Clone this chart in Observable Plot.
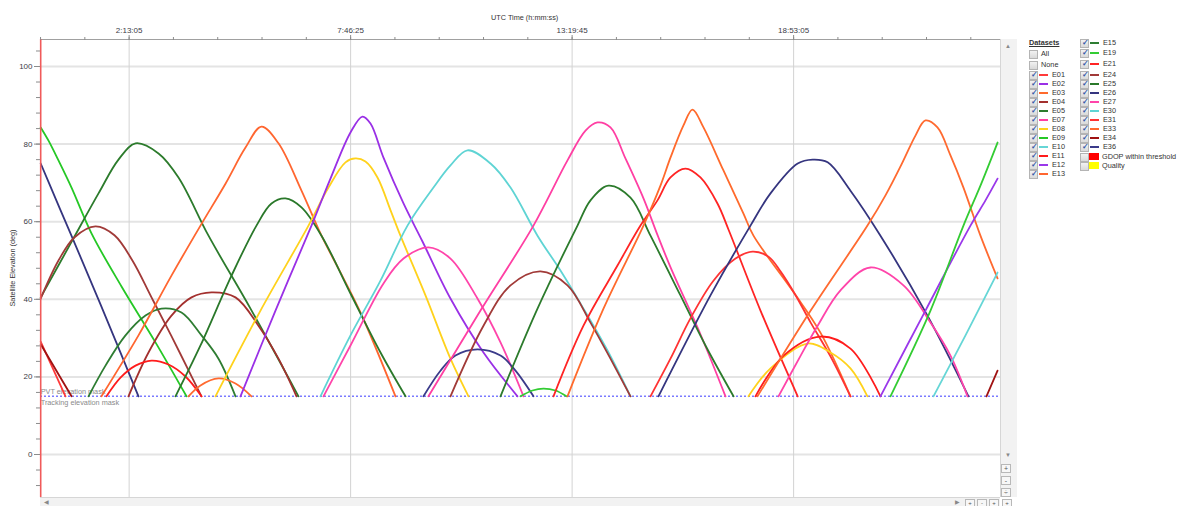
<!DOCTYPE html>
<html>
<head>
<meta charset="utf-8">
<script src="https://cdn.jsdelivr.net/npm/d3@7"></script>
<script src="https://cdn.jsdelivr.net/npm/@observablehq/plot@0.6"></script>
<style>
  body { margin: 0; background: #fff; }
  #root { position: relative; width: 1179px; height: 506px; overflow: hidden;
          font-family: "Liberation Sans", Arial, sans-serif; color: #333; }
  #chart { position: absolute; left: 0; top: 0; }
  .t { position: absolute; white-space: nowrap; font-size: 7.3px; line-height: 10px; }
  .cb { position: absolute; width: 7px; height: 7px; border: 1px solid #b4b4b4;
        background: linear-gradient(#f2f2f2, #d9d9d9); box-sizing: content-box; }
  .cb.on::after { content: "✓"; position: absolute; left: 0.5px; top: -2px; font-size: 8px;
        color: #3558a8; font-weight: bold; }
  .sw { position: absolute; width: 9px; height: 2px; }
  .bar { position: absolute; background: #f2f2f2; }
  .btn { position: absolute; width: 8px; height: 7px; border: 1px solid #b8b8b8; background: #f7f7f7;
         font-size: 7px; line-height: 7px; text-align: center; color: #555; }
  .btn.low { height: 6px; line-height: 6px; font-size: 6px; border-bottom: none; }
  .arr { position: absolute; font-size: 6px; color: #888; line-height: 6px; }
</style>
</head>
<body>
<div id="root">
  <div id="chart"></div>
</div>
<script>
// ---- Axis ticks ----
const timeTickLabels = ["2:13:05", "7:46:25", "13:19:45", "18:53:05"];
const minorTimeStepSeconds = 4000;
const elevationTicks = [0, 20, 40, 60, 80, 100];
const maskElevation = 15;

// ---- Satellites and colours ----
const satIds = ["E01", "E02", "E03", "E04", "E05", "E07", "E08", "E09", "E10", "E11", "E12", "E13",
                "E15", "E19", "E21", "E24", "E25", "E26", "E27", "E30", "E31", "E33", "E34", "E36"];
const satColors = ["#ff3a3a", "#9a30e6", "#ff6a2c", "#a3302e", "#2c7b2c", "#ff3fa3", "#ffd21c", "#25c825",
                   "#66d6d6", "#ff1c1c", "#9a38ea", "#ff6630", "#2e7d32", "#33cc33", "#ff2424", "#a13a38",
                   "#2a782a", "#35357f", "#ff44aa", "#5fd4d4", "#ff3333", "#ff6a30", "#a01212", "#3b3b8a"];

// ---- Passes: [UTC hours, elevation deg] ----
const E01_a = [[0, 29.1], [0.622, 15]];
const E34_a = [[0, 28.4], [0.773, 15]];
const E09_a = [[0, 84.3], [0.196, 80.9], [0.446, 75.8], [0.773, 68.8], [1.274, 57.0], [2.027, 43.3], [2.879, 28.9], [3.657, 15]];
const E26_a = [[0, 75.0], [0.371, 66.0], [0.747, 57.0], [1.500, 38.7], [2.453, 15]];
const E05_a = [[0, 40.5], [0.773, 54.8], [1.450, 67.3], [1.951, 76.0], [2.378, 80.2], [2.955, 77.6], [3.456, 71.4], [4.209, 56.4], [5.262, 37.6], [6.466, 15]];
const E24_a = [[0, 40.2], [0.446, 50.0], [0.850, 56.0], [1.374, 58.8], [1.850, 56.5], [2.300, 50.0], [2.779, 40.5], [3.280, 30.5], [3.833, 19.1], [4.033, 15]];
const E04_a = [[2.202, 15], [2.704, 26.3], [3.280, 35.8], [3.782, 40.5], [4.284, 41.8], [4.886, 40.5], [5.462, 33.2], [5.964, 24.7], [6.416, 15]];
const E15_a = [[1.199, 15], [1.625, 22.9], [2.127, 30.7], [2.629, 35.8], [3.030, 37.6], [3.531, 36.6], [4.033, 30.7], [4.460, 24.7], [4.886, 15]];
const E11_a = [[1.650, 15], [2.001, 19.8], [2.378, 22.9], [2.779, 24.2], [3.205, 23.2], [3.632, 20.1], [4.033, 15]];
const E33_a = [[3.707, 15], [4.008, 17.8], [4.460, 19.6], [4.886, 18.3], [5.287, 15]];
const E13_a = [[1.525, 15], [2.453, 30.7], [3.280, 46.1], [4.008, 59.0], [4.635, 69.8], [5.137, 79.1], [5.538, 84.5], [5.964, 80.2], [6.541, 68.0], [7.043, 56.4], [7.469, 47.9], [8.021, 36.6], [8.899, 15]];
const E25_a = [[3.381, 15], [4.008, 28.1], [4.786, 46.1], [5.412, 59.0], [5.789, 64.7], [6.140, 66.0], [6.541, 63.7], [7.043, 56.4], [7.770, 41.5], [8.523, 26.3], [9.150, 15]];
const E08_a = [[4.384, 15], [5.513, 37.1], [6.717, 59.0], [7.218, 68.8], [7.645, 75.3], [7.895, 76.3], [8.146, 75.5], [8.447, 71.4], [8.773, 63.0], [9.024, 56.4], [9.651, 41.0], [10.278, 24.7], [10.730, 15]];
const E02_a = [[5.011, 15], [5.889, 37.1], [6.792, 59.0], [7.268, 71.1], [7.770, 83.0], [8.071, 87.1], [8.272, 85.3], [8.598, 76.5], [9.100, 64.7], [9.576, 54.9], [10.278, 40.2], [11.106, 26.3], [11.959, 15]];
const E30_a = [[7.018, 15], [7.770, 30.7], [8.523, 44.8], [9.200, 59.0], [9.852, 68.8], [10.278, 74.5], [10.704, 78.4], [11.282, 75.0], [11.784, 68.8], [12.461, 56.4], [13.037, 47.4], [13.614, 37.6], [14.216, 26.8], [14.793, 15]];
const E27_a = [[7.093, 15], [7.770, 28.1], [8.598, 44.1], [9.100, 50.5], [9.726, 53.4], [10.278, 50.5], [10.955, 40.2], [11.533, 28.9], [12.110, 15]];
const E36_a = [[9.601, 15], [10.027, 21.6], [10.403, 25.5], [10.955, 27.1], [11.533, 25.5], [11.909, 21.6], [12.360, 15]];
const E24_b = [[10.278, 15], [11.106, 33.2], [11.784, 43.6], [12.536, 47.2], [13.213, 43.6], [13.790, 34.0], [14.291, 24.7], [14.793, 15]];
const E07_a = [[9.726, 15], [11.031, 37.1], [12.360, 59.0], [13.213, 75.8], [13.665, 83.5], [13.965, 85.6], [14.291, 84.3], [14.667, 76.3], [15.119, 66.0], [15.470, 56.6], [15.796, 48.3], [16.548, 31.0], [17.176, 15]];
const E05_b = [[11.533, 15], [12.461, 37.6], [13.464, 59.0], [13.790, 65.5], [14.241, 69.3], [14.793, 66.2], [15.295, 56.4], [16.047, 41.0], [16.674, 28.1], [17.377, 15]];
const E19_a = [[12.034, 15], [12.335, 16.5], [12.611, 17.0], [12.912, 16.5], [13.188, 15]];
const E21_a = [[12.862, 15], [13.614, 33.2], [14.467, 48.7], [15.044, 59.0], [15.470, 65.5], [15.796, 71.4], [16.172, 73.7], [16.548, 71.4], [16.975, 64.7], [17.251, 58.0], [18.054, 37.1], [18.987, 15]];
const E03_a = [[13.213, 15], [14.116, 37.6], [15.119, 59.0], [15.545, 69.3], [15.796, 76.5], [16.122, 84.8], [16.348, 88.9], [16.624, 84.3], [17.125, 73.2], [17.627, 62.1], [17.878, 56.4], [18.887, 41.8], [19.558, 31.4], [20.311, 15]];
const E31_a = [[15.295, 15], [15.796, 24.7], [16.297, 35.1], [16.874, 44.8], [17.427, 50.5], [17.853, 52.3], [18.255, 51.0], [18.555, 47.2], [18.937, 41.0], [19.313, 34.0], [19.809, 25.3], [20.311, 15]];
const E26_b = [[15.495, 15], [15.796, 21.1], [16.799, 41.0], [17.803, 59.0], [18.305, 67.3], [18.987, 75.0], [19.363, 76.0], [19.739, 75.3], [20.311, 68.0], [21.063, 56.4], [22.242, 35.8], [23.271, 15]];
const E08_b = [[17.753, 15], [18.305, 22.2], [19.238, 28.6], [19.809, 26.3], [20.311, 22.2], [20.737, 15]];
const E11_b = [[17.928, 15], [18.636, 25.5], [19.558, 30.4], [20.311, 27.3], [21.063, 15]];
const E33_b = [[17.979, 15], [19.313, 37.1], [20.737, 59.0], [21.189, 66.8], [21.640, 75.8], [21.941, 82.2], [22.192, 86.1], [22.493, 84.3], [22.819, 77.1], [23.145, 68.8], [23.571, 56.4], [24.0, 45.4]];
const E27_b = [[18.505, 15], [19.062, 25.5], [19.488, 33.2], [20.060, 42.3], [20.813, 48.2], [21.640, 43.6], [22.318, 34.0], [22.819, 25.5], [23.246, 15]];
const E12_a = [[21.063, 15], [22.192, 37.1], [23.321, 59.0], [23.697, 65.5], [24.0, 71.1]];
const E19_b = [[21.314, 15], [22.318, 37.1], [23.145, 59.0], [23.571, 69.3], [24.0, 80.4]];
const E10_a = [[22.393, 15], [23.196, 30.7], [24.0, 46.9]];
const E34_b = [[23.722, 15], [24.0, 21.6]];

const passes = [
  ["E01", E01_a], ["E34", E34_a], ["E09", E09_a], ["E26", E26_a], ["E05", E05_a], ["E24", E24_a],
  ["E04", E04_a], ["E15", E15_a], ["E11", E11_a], ["E33", E33_a], ["E13", E13_a], ["E25", E25_a],
  ["E08", E08_a], ["E02", E02_a], ["E30", E30_a], ["E27", E27_a], ["E36", E36_a], ["E24", E24_b],
  ["E07", E07_a], ["E05", E05_b], ["E19", E19_a], ["E21", E21_a], ["E03", E03_a], ["E31", E31_a],
  ["E26", E26_b], ["E08", E08_b], ["E11", E11_b], ["E33", E33_b], ["E27", E27_b], ["E12", E12_a],
  ["E19", E19_b], ["E10", E10_a], ["E34", E34_b]
];

// ---- Derived tables ----
const colorOf = new Map(satIds.map((id, i) => [id, satColors[i]]));
const toHours = s => { const [h, m, sec] = s.split(":").map(Number); return h + m / 60 + sec / 3600; };
const majorHours = timeTickLabels.map(toHours);
const labelOf = new Map(majorHours.map((h, i) => [h, timeTickLabels[i]]));
const minorHours = d3.range(-2, 20).map(k => majorHours[0] + k * minorTimeStepSeconds / 3600);
const minorElevation = d3.range(-8, 105, 4);
const points = passes.flatMap(([sat, arr], i) =>
  arr.map(([t, el]) => ({sat, pass: i, t, el, color: colorOf.get(sat)})));

const xDomain = [-0.005, 24.074];
const yDomain = [-11.08, 106.96];

const chart = Plot.plot({
  width: 1020,
  height: 506,
  marginLeft: 40,
  marginRight: 20,
  marginTop: 39,
  marginBottom: 9,
  style: {fontFamily: "Liberation Sans, Arial, sans-serif", fontSize: "8px", background: "transparent", overflow: "visible"},
  x: {domain: xDomain, label: null},
  y: {domain: yDomain, label: null},
  color: {type: "identity"},
  marks: [
    Plot.ruleY(elevationTicks, {stroke: "#e4e4e4", strokeWidth: 2}),
    Plot.ruleX(majorHours, {stroke: "#d3d3d3", strokeWidth: 1}),
    Plot.ruleY([maskElevation], {stroke: "#7b7bff", strokeWidth: 1.5, strokeDasharray: "2,2"}),
    Plot.text([{t: 0, el: maskElevation, label: "PVT elevation mask"}],
      {x: "t", y: "el", text: "label", textAnchor: "start", dx: 0, dy: -4.5, fill: "#8a8a8a", fontSize: 7.3}),
    Plot.text([{t: 0, el: maskElevation, label: "Tracking elevation mask"}],
      {x: "t", y: "el", text: "label", textAnchor: "start", dx: 0, dy: 6, fill: "#8a8a8a", fontSize: 7.3}),
    Plot.line(points, {x: "t", y: "el", z: "pass", stroke: "color", strokeWidth: 1.8, curve: "catmull-rom"}),
    Plot.ruleY([yDomain[1]], {stroke: "#a0a0a0", strokeWidth: 1}),
    Plot.ruleX([0], {stroke: "#f05a5a", strokeWidth: 1.6}),
    Plot.axisX({anchor: "top", ticks: majorHours, tickSize: 5, tickPadding: 2,
      tickFormat: d => labelOf.get(d), stroke: "#8c8c8c", fill: "#3c3c48", label: null}),
    Plot.axisX({anchor: "top", ticks: minorHours, tickSize: 3, tickFormat: () => "",
      stroke: "#8c8c8c", label: null}),
    Plot.axisY({ticks: elevationTicks, tickSize: 6, tickPadding: 2, stroke: "#8c8c8c",
      fill: "#3c3c48", label: null}),
    Plot.axisY({ticks: minorElevation, tickSize: 4, tickFormat: () => "", stroke: "#8c8c8c", label: null})
  ]
});
document.getElementById("chart").appendChild(chart);

// ---- Surrounding text, scrollbars and dataset list ----
const root = document.getElementById("root");
function add(cls, css, text) {
  const el = document.createElement("div");
  el.className = cls;
  Object.assign(el.style, css);
  if (text != null) el.textContent = text;
  root.appendChild(el);
  return el;
}

add("t", {left: "491px", top: "13px", width: "67px", textAlign: "center"}, "UTC Time (h:mm:ss)");
add("t", {left: "-26px", top: "263px", width: "78px", textAlign: "center", transform: "rotate(-90deg)"},
    "Satellite Elevation (deg)");

// scrollbars and zoom buttons
add("bar", {left: "1000px", top: "39px", width: "16px", height: "458px", borderLeft: "1px solid #d6d6d6"});
add("bar", {left: "40px", top: "497px", width: "960px", height: "9px", borderTop: "1px solid #d6d6d6"});
add("arr", {left: "1005px", top: "43px"}, "▲");
add("arr", {left: "1005px", top: "452px"}, "▼");
add("arr", {left: "44px", top: "499px"}, "◀");
add("arr", {left: "955px", top: "499px"}, "▶");
add("btn", {left: "1001px", top: "464px"}, "+");
add("btn", {left: "1001px", top: "476px"}, "-");
add("btn", {left: "1001px", top: "488px"}, "÷");
add("btn low", {left: "965px", top: "499px"}, "+");
add("btn low", {left: "977px", top: "499px"}, "-");
add("btn low", {left: "989px", top: "499px"}, "+");
add("btn low", {left: "1002px", top: "499px"}, "+");

// dataset list
add("t", {left: "1029px", top: "38px", fontWeight: "bold", textDecoration: "underline"}, "Datasets");
function checkbox(x, y, on) { add("cb" + (on ? " on" : ""), {left: x + "px", top: (y - 4) + "px"}); }
checkbox(1029, 54, false);  add("t", {left: "1041px", top: (54 - 5) + "px"}, "All");
checkbox(1029, 65, false);  add("t", {left: "1041px", top: (65 - 5) + "px"}, "None");

const col1 = satIds.slice(0, 12), col2 = satIds.slice(12);
const col1Y = [75.3, 84.3, 93.3, 102.3, 111.3, 120.3, 129.3, 138.3, 147.3, 156.3, 165.3, 174.3];
const col2Y = [43.3, 52.7, 64, 75, 84, 93, 102, 111, 120, 129, 138.3, 147.3];
function entry(x, y, id) {
  checkbox(x, y, true);
  add("sw", {left: (x + 10) + "px", top: (y - 1) + "px", background: colorOf.get(id)});
  add("t", {left: (x + 23) + "px", top: (y - 5) + "px"}, id);
}
col1.forEach((id, i) => entry(1029, col1Y[i], id));
col2.forEach((id, i) => entry(1080, col2Y[i], id));
checkbox(1080, 156.7, false);
add("sw", {left: "1089px", top: "153px", width: "10px", height: "7px", background: "#ff0000"});
add("t", {left: "1102px", top: "151.7px"}, "GDOP within threshold");
checkbox(1080, 165.7, false);
add("sw", {left: "1089px", top: "162px", width: "10px", height: "7px", background: "#ffff00"});
add("t", {left: "1102px", top: "160.7px"}, "Quality");
</script>
</body>
</html>
